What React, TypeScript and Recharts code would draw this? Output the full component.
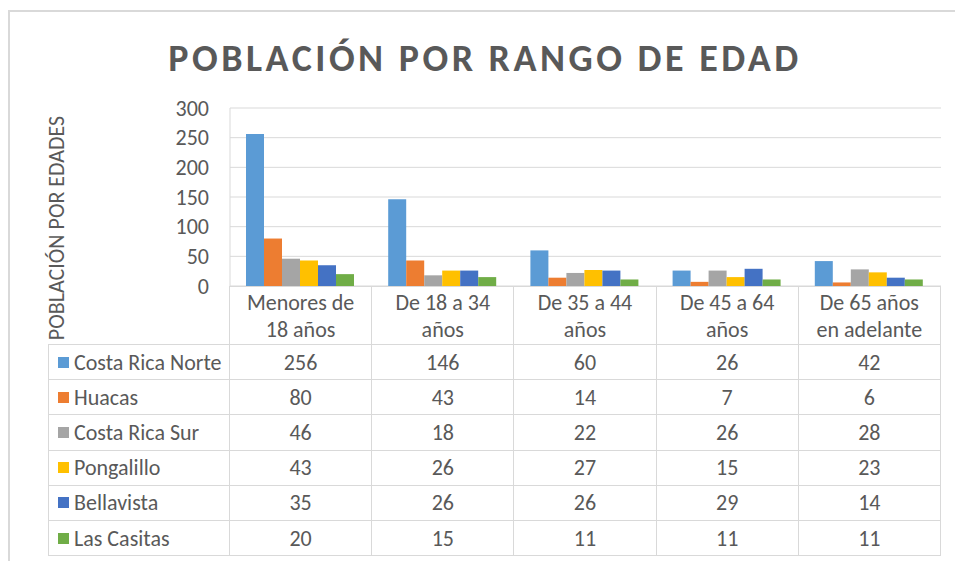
import { BarChart, Bar, XAxis, YAxis, CartesianGrid } from 'recharts';

const categories = [
    'Menores de\n18 años',
    'De 18 a 34\naños',
    'De 35 a 44\naños',
    'De 45 a 64\naños',
    'De 65 años\nen adelante',
];

const costaRicaNorte = [256, 146, 60, 26, 42];
const huacas = [80, 43, 14, 7, 6];
const costaRicaSur = [46, 18, 22, 26, 28];
const pongalillo = [43, 26, 27, 15, 23];
const bellavista = [35, 26, 26, 29, 14];
const lasCasitas = [20, 15, 11, 11, 11];

const yTicks = [0, 50, 100, 150, 200, 250, 300];

const series = [
    { key: 'crn', name: 'Costa Rica Norte', values: costaRicaNorte, color: '#5B9BD5' },
    { key: 'hua', name: 'Huacas', values: huacas, color: '#ED7D31' },
    { key: 'crs', name: 'Costa Rica Sur', values: costaRicaSur, color: '#A5A5A5' },
    { key: 'pon', name: 'Pongalillo', values: pongalillo, color: '#FFC000' },
    { key: 'bel', name: 'Bellavista', values: bellavista, color: '#4472C4' },
    { key: 'cas', name: 'Las Casitas', values: lasCasitas, color: '#70AD47' },
];

const data = categories.map((c, i) => {
    const row: Record<string, string | number> = { name: c };
    series.forEach((s) => {
        row[s.key] = s.values[i];
    });
    return row;
});

const FONT = "Carlito, Calibri, 'Open Sans', sans-serif";
const TEXT = '#595959';
const LINE = '#D9D9D9';
const COL0 = 182;
const COLW = 142.2;

export default function App() {
    const cell = (extra: React.CSSProperties = {}): React.CSSProperties => ({
        boxSizing: 'border-box',
        borderRight: `1px solid ${LINE}`,
        borderBottom: `1px solid ${LINE}`,
        display: 'flex',
        alignItems: 'center',
        justifyContent: 'center',
        ...extra,
    });

    return (
        <div
            style={{
                position: 'absolute',
                left: 0,
                top: 0,
                width: 955,
                height: 561,
                overflow: 'hidden',
                background: '#fff',
                fontFamily: FONT,
                color: TEXT,
            }}
        >
            <div
                style={{
                    position: 'absolute',
                    left: 8,
                    top: 10,
                    width: 1000,
                    height: 600,
                    borderTop: `2px solid ${LINE}`,
                    borderLeft: `2px solid ${LINE}`,
                }}
            />
            <div
                style={{
                    position: 'absolute',
                    left: 0,
                    top: 35,
                    width: 970,
                    textAlign: 'center',
                    fontSize: 38,
                    lineHeight: '46px',
                    fontWeight: 700,
                    letterSpacing: 3.5,
                    color: TEXT,
                }}
            >
                POBLACIÓN POR RANGO DE EDAD
            </div>
            <div
                style={{
                    position: 'absolute',
                    left: 56,
                    top: 228,
                    transform: 'translate(-50%, -50%) rotate(-90deg)',
                    whiteSpace: 'nowrap',
                    fontSize: 22,
                    color: TEXT,
                }}
            >
                POBLACIÓN POR EDADES
            </div>
            <div style={{ position: 'absolute', left: 0, top: 0 }}>
                <BarChart
                    width={955}
                    height={300}
                    data={data}
                    margin={{ top: 108, right: 14, left: 0, bottom: 14 }}
                    barCategoryGap={16}
                    barGap={0}
                >
                    <CartesianGrid vertical={false} stroke={LINE} />
                    <XAxis dataKey="name" hide />
                    <YAxis
                        width={230}
                        domain={[0, 300]}
                        ticks={yTicks}
                        interval={0}
                        axisLine={{ stroke: LINE }}
                        tickLine={false}
                        tickMargin={15}
                        tick={{ fill: TEXT, fontSize: 22, fontFamily: FONT }}
                    />
                    {series.map((s) => (
                        <Bar
                            key={s.key}
                            dataKey={s.key}
                            name={s.name}
                            fill={s.color}
                            isAnimationActive={false}
                        />
                    ))}
                </BarChart>
            </div>
            <div
                style={{
                    position: 'absolute',
                    left: 48,
                    top: 286,
                    display: 'grid',
                    gridTemplateColumns: `${COL0}px repeat(5, ${COLW}px)`,
                    gridTemplateRows: `59px repeat(6, 35.2px)`,
                    fontSize: 22,
                }}
            >
                <div style={cell()} />
                {categories.map((c) => (
                    <div
                        key={c}
                        style={cell({
                            borderTop: `1px solid ${LINE}`,
                            whiteSpace: 'pre-line',
                            textAlign: 'center',
                            lineHeight: '27px',
                        })}
                    >
                        {c}
                    </div>
                ))}
                {series.map((s) => [
                    <div
                        key={s.key + '-l'}
                        style={cell({
                            borderLeft: `1px solid ${LINE}`,
                            justifyContent: 'flex-start',
                            paddingLeft: 9,
                            whiteSpace: 'nowrap',
                        })}
                    >
                        <span
                            style={{
                                display: 'inline-block',
                                flex: 'none',
                                width: 11,
                                height: 11,
                                background: s.color,
                                marginRight: 5,
                            }}
                        />
                        {s.name}
                    </div>,
                    ...s.values.map((v, i) => (
                        <div key={s.key + i} style={cell()}>
                            {v}
                        </div>
                    )),
                ])}
            </div>
        </div>
    );
}
